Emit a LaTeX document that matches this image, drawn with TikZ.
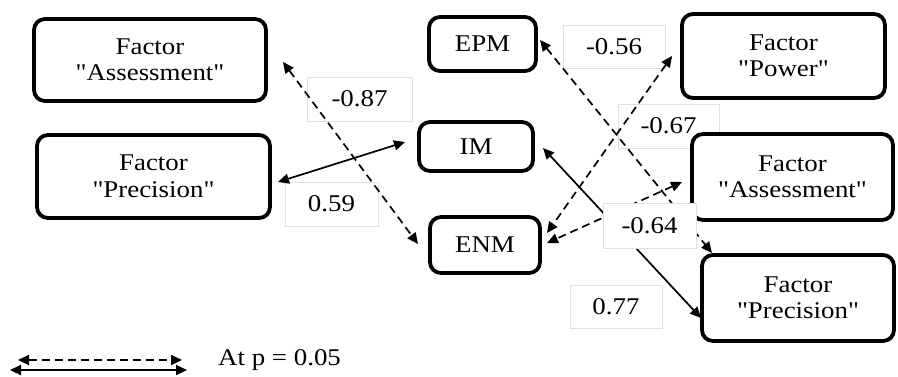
\documentclass[tikz,border=0pt]{standalone}
\usepackage{fontspec}
\setmainfont{Liberation Serif}[FakeStretch=1.12,Ligatures=TeXOff]
\usetikzlibrary{arrows.meta,calc}
\begin{document}
\begin{tikzpicture}[x=1pt,y=-1pt,
  txt/.style={font=\fontsize{24}{26.5}\selectfont},
  box/.style={txt,draw,line width=3.8pt,rounded corners=11pt,fill=white,align=center,inner sep=0pt,outer sep=0pt},
  lab/.style={txt,draw=black!12,line width=0.8pt,inner sep=0pt,outer sep=0pt},
  tip/.tip={Triangle[length=11pt,width=10pt]},
  conn/.style={line width=1.7pt,tip-tip},
  dsh/.style={conn,dash pattern=on 8pt off 5pt}]
\useasboundingbox (0,0) rectangle (898,376);

% value labels (under the lines)
\node[lab,minimum width=105pt,minimum height=44pt] (l87) at (359.5,99) {-0.87};
\node[lab,minimum width=93pt,minimum height=44pt] (l59) at (331.5,204) {0.59};
\node[lab,minimum width=102pt,minimum height=43pt] (l56) at (614,46.5) {-0.56};
\node[lab,minimum width=101pt,minimum height=44pt] (l67) at (668.5,126) {-0.67};
\node[lab,minimum width=92pt,minimum height=43pt] (l77) at (616,306.5) {0.77};

% boxes
\node[box,minimum width=232pt,minimum height=82pt] (lA) at (150,60) {Factor\\"Assessment"};
\node[box,minimum width=233pt,minimum height=83pt] (lP) at (153.5,176.5) {Factor\\"Precision"};
\node[box,minimum width=107pt,minimum height=54pt] (EPM) at (482.5,44) {EPM};
\node[box,minimum width=114pt,minimum height=49pt] (IM) at (476,146.5) {IM};
\node[box,minimum width=110pt,minimum height=56pt] (ENM) at (485,245) {ENM};
\node[box,minimum width=203pt,minimum height=84pt] (rPow) at (783.5,56) {Factor\\"Power"};
\node[box,minimum width=201pt,minimum height=86pt] (rA) at (792.5,177) {Factor\\"Assessment"};
\node[box,minimum width=192pt,minimum height=86pt] (rP) at (798,298) {Factor\\"Precision"};

% connectors
\draw[dsh] ($(lA.east)+(17,2)$) -- ($(ENM.west)+(-12,-1)$);
\draw[conn] ($(lP.east)+(8,5.5)$) -- ($(IM.west)+(-14,-4.5)$);
\draw[dsh] ($(EPM.east)+(4,-4)$) -- ($(rP.north west)+(10,-2)$);
\draw[dsh] ($(rPow.west)+(-10,0)$) -- ($(ENM.east)+(7,-12)$);
\draw[dsh] ($(rA.west)+(-10,5)$) -- ($(ENM.east)+(7,-2)$);
\draw[conn] ($(IM.east)+(10,1.5)$) -- ($(rP.west)+(-1,20)$);

% label on top
\node[lab,fill=white,minimum width=93pt,minimum height=45pt] (l64) at (649.5,225.5) {-0.64};

% legend
\coordinate (d1) at (18,360);
\coordinate (d2) at (182,360);
\coordinate (s1) at (10,370);
\coordinate (s2) at (187,370);
\draw[dsh] (d1) -- (d2);
\draw[conn,line width=2.2pt] (s1) -- (s2);
\node[txt,anchor=west,inner sep=0pt] (leg) at (218,360) {At p = 0.05};
\end{tikzpicture}
\end{document}
